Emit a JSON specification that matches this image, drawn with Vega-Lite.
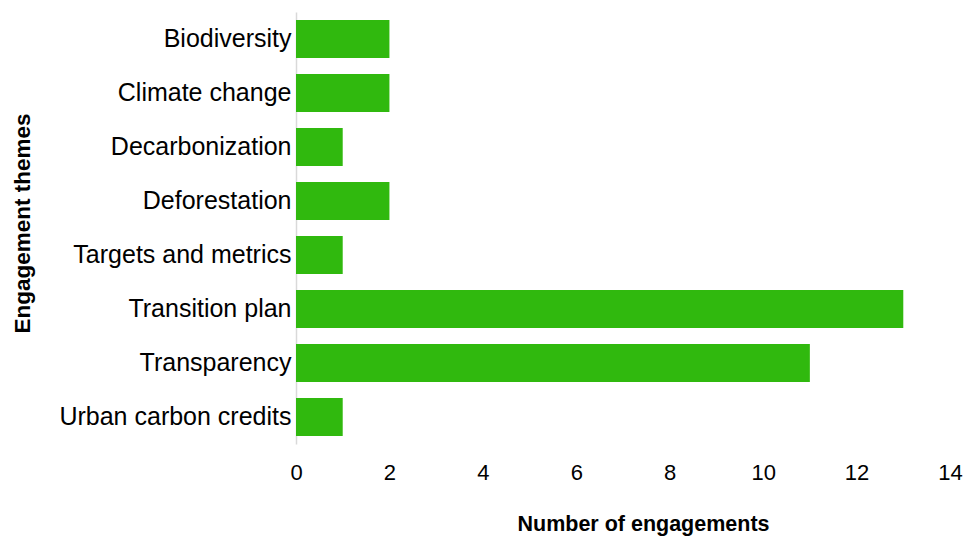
{
  "$schema": "https://vega.github.io/schema/vega-lite/v6.json",
  "autosize": "none",
  "width": 654,
  "height": 432,
  "padding": {"left": 296, "top": 12, "right": 28, "bottom": 92},
  "background": "white",
  "config": {"view": {"stroke": null}, "font": "Liberation Sans"},
  "data": {
    "values": [
      {"theme": "Biodiversity", "count": 2},
      {"theme": "Climate change", "count": 2},
      {"theme": "Decarbonization", "count": 1},
      {"theme": "Deforestation", "count": 2},
      {"theme": "Targets and metrics", "count": 1},
      {"theme": "Transition plan", "count": 13},
      {"theme": "Transparency", "count": 11},
      {"theme": "Urban carbon credits", "count": 1}
    ]
  },
  "mark": {"type": "bar", "color": "#30B90E"},
  "encoding": {
    "y": {
      "field": "theme",
      "type": "nominal",
      "sort": null,
      "scale": {"paddingInner": 0.3, "paddingOuter": 0.15},
      "axis": {
        "title": "Engagement themes",
        "titleFontSize": 22.5,
        "titleFontWeight": "bold",
        "titleColor": "#000",
        "titleAngle": -90,
        "titleX": -274,
        "titleY": 211,
        "titleBaseline": "middle",
        "titleAlign": "center",
        "labelFontSize": 25,
        "labelColor": "#000",
        "labelPadding": 5,
        "labelLimit": 400,
        "ticks": false,
        "tickSize": 0,
        "domainColor": "#d9d9d9",
        "domainWidth": 1.5,
        "grid": false
      }
    },
    "x": {
      "field": "count",
      "type": "quantitative",
      "scale": {"domain": [0, 14], "nice": false},
      "axis": {
        "title": "Number of engagements",
        "titleFontSize": 21.5,
        "titleFontWeight": "bold",
        "titleColor": "#000",
        "titleX": 347,
        "titleY": 86,
        "titleAlign": "center",
        "titleBaseline": "alphabetic",
        "values": [0, 2, 4, 6, 8, 10, 12, 14],
        "labelFontSize": 22,
        "labelColor": "#000",
        "labelPadding": 18,
        "labelFlush": false,
        "ticks": false,
        "tickSize": 0,
        "domain": false,
        "grid": false
      }
    }
  }
}
